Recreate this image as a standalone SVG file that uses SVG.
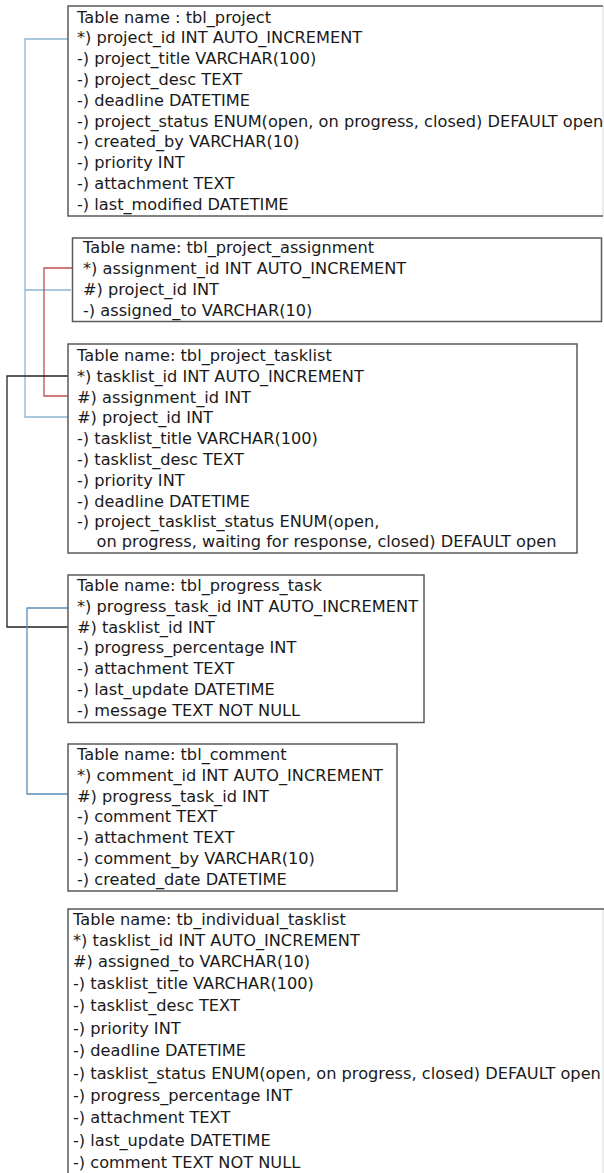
<svg xmlns="http://www.w3.org/2000/svg" width="604" height="1173" viewBox="0 0 604 1173">
<style>
.box{fill:#ffffff;stroke:#5a5a5a;stroke-width:1.5}
.edge{fill:none;stroke:#5a5a5a;stroke-width:1.5}
.faint{fill:none;stroke:#d8d8d8;stroke-width:1}
.t{font-family:"DejaVu Sans","Liberation Sans",sans-serif;font-size:16.2px;fill:#1a1a1a}
.c{fill:none;stroke-width:1.3}
.lb{stroke:#8ab8cf}
.rd{stroke:#c0504d}
.bk{stroke:#222222}
.bl{stroke:#5b8db8}
</style>
<rect width="604" height="1173" fill="#ffffff"/>
<g id="connectors">
<path class="c lb" d="M68,39 H25 V417 H68 M25,290 H71"/>
<path class="c rd" d="M72,268 H44 V396 H68"/>
<path class="c bk" d="M68,376 H7 V627 H68"/>
<path class="c bl" d="M68,608 H27 V794 H68"/>
</g>
<g id="tbl_project">
<path class="faint" d="M603,6 V216"/>
<path class="edge" d="M603,6 H68 V216 H603"/>
<text class="t" x="77" y="22.5">Table name : tbl_project</text>
<text class="t" x="77" y="43.3">*) project_id INT AUTO_INCREMENT</text>
<text class="t" x="77" y="64.1">-) project_title VARCHAR(100)</text>
<text class="t" x="77" y="84.9">-) project_desc TEXT</text>
<text class="t" x="77" y="105.7">-) deadline DATETIME</text>
<text class="t" x="77" y="126.5">-) project_status ENUM(open, on progress, closed) DEFAULT open</text>
<text class="t" x="77" y="147.3">-) created_by VARCHAR(10)</text>
<text class="t" x="77" y="168.1">-) priority INT</text>
<text class="t" x="77" y="188.9">-) attachment TEXT</text>
<text class="t" x="77" y="209.7">-) last_modified DATETIME</text>
</g>
<g id="tbl_project_assignment">
<rect class="box" x="72.5" y="238" width="529" height="83.5"/>
<text class="t" x="83" y="252.5">Table name: tbl_project_assignment</text>
<text class="t" x="83" y="273.5">*) assignment_id INT AUTO_INCREMENT</text>
<text class="t" x="83" y="294.5">#) project_id INT</text>
<text class="t" x="83" y="315.5">-) assigned_to VARCHAR(10)</text>
</g>
<g id="tbl_project_tasklist">
<rect class="box" x="68" y="344" width="509" height="209"/>
<text class="t" x="77" y="361">Table name: tbl_project_tasklist</text>
<text class="t" x="77" y="381.8">*) tasklist_id INT AUTO_INCREMENT</text>
<text class="t" x="77" y="402.6">#) assignment_id INT</text>
<text class="t" x="77" y="423.4">#) project_id INT</text>
<text class="t" x="77" y="444.2">-) tasklist_title VARCHAR(100)</text>
<text class="t" x="77" y="465">-) tasklist_desc TEXT</text>
<text class="t" x="77" y="485.8">-) priority INT</text>
<text class="t" x="77" y="506.6">-) deadline DATETIME</text>
<text class="t" x="77" y="527.4">-) project_tasklist_status ENUM(open,</text>
<text class="t" x="96.5" y="547">on progress, waiting for response, closed) DEFAULT open</text>
</g>
<g id="tbl_progress_task">
<rect class="box" x="68" y="575" width="356" height="147.5"/>
<text class="t" x="77" y="591">Table name: tbl_progress_task</text>
<text class="t" x="77" y="611.8">*) progress_task_id INT AUTO_INCREMENT</text>
<text class="t" x="77" y="632.6">#) tasklist_id INT</text>
<text class="t" x="77" y="653.4">-) progress_percentage INT</text>
<text class="t" x="77" y="674.2">-) attachment TEXT</text>
<text class="t" x="77" y="695">-) last_update DATETIME</text>
<text class="t" x="77" y="715.8">-) message TEXT NOT NULL</text>
</g>
<g id="tbl_comment">
<rect class="box" x="68" y="744" width="329" height="147"/>
<text class="t" x="77" y="760">Table name: tbl_comment</text>
<text class="t" x="77" y="780.8">*) comment_id INT AUTO_INCREMENT</text>
<text class="t" x="77" y="801.6">#) progress_task_id INT</text>
<text class="t" x="77" y="822.4">-) comment TEXT</text>
<text class="t" x="77" y="843.2">-) attachment TEXT</text>
<text class="t" x="77" y="864">-) comment_by VARCHAR(10)</text>
<text class="t" x="77" y="884.8">-) created_date DATETIME</text>
</g>
<g id="tb_individual_tasklist">
<path class="faint" d="M603,909 V1173"/>
<path class="edge" d="M604,909 H68 V1173"/>
<text class="t" x="73" y="924.5">Table name: tb_individual_tasklist</text>
<text class="t" x="73" y="945.5">*) tasklist_id INT AUTO_INCREMENT</text>
<text class="t" x="73" y="966.5">#) assigned_to VARCHAR(10)</text>
<text class="t" x="73" y="989">-) tasklist_title VARCHAR(100)</text>
<text class="t" x="73" y="1011.4">-) tasklist_desc TEXT</text>
<text class="t" x="73" y="1033.8">-) priority INT</text>
<text class="t" x="73" y="1056.2">-) deadline DATETIME</text>
<text class="t" x="73" y="1078.6">-) tasklist_status ENUM(open, on progress, closed) DEFAULT open</text>
<text class="t" x="73" y="1101">-) progress_percentage INT</text>
<text class="t" x="73" y="1123.4">-) attachment TEXT</text>
<text class="t" x="73" y="1145.8">-) last_update DATETIME</text>
<text class="t" x="73" y="1168.2">-) comment TEXT NOT NULL</text>
</g>
</svg>
